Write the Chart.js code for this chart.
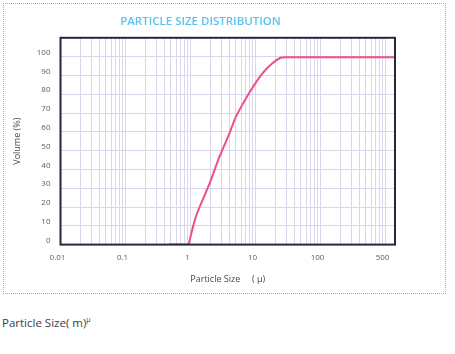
<!DOCTYPE html>
<html lang="en">
<head>
    <meta charset="UTF-8">
    <title>Particle Size Distribution</title>
    <script src="https://cdn.jsdelivr.net/npm/chart.js"></script>
    <style>
        body {
            margin: 0;
            background-color: #ffffff;
            font-family: "Open Sans", Arial, sans-serif;
        }
        .frame {
            position: absolute;
            left: 3px;
            top: 3px;
            width: 441px;
            height: 289px;
            border: 1px dotted #a9a6bd;
        }
        canvas {
            position: absolute;
            left: 0;
            top: 0;
        }
        .caption {
            position: absolute;
            left: 2px;
            top: 315px;
            font-size: 11.5px;
            color: #3c3c46;
        }
        .caption sup { font-size: 7px; }
    </style>
</head>
<body>
    <div class="frame">
        <canvas id="chart" width="441" height="289"></canvas>
    </div>
    <div class="caption">Particle Size( m)<sup>µ</sup></div>

    <script>
        // particle size (µm) and cumulative volume (%)
        const sizes  = [0.47, 0.92, 0.97, 1.16, 1.38, 1.96, 2.78, 3.95, 4.71, 5.61, 8.43, 12.7, 18.0, 24.2, 28.8, 100, 1400];
        const volume = [0,    0,    2.3,  12.9, 20.0, 32.4, 46.6, 59.0, 66.0, 71.4, 82.0, 91.0, 96.3, 99.4, 99.6, 99.6, 99.6];

        const xTickValues = [0.01, 0.1, 1, 10, 100, 1000];
        const xTickLabels = ['0.01', '0.1', '1', '10', '100', '500'];

        // outline of the plot area
        const framePlugin = {
            id: 'plotFrame',
            afterDraw(chart) {
                const a = chart.chartArea;
                const ctx = chart.ctx;
                ctx.save();
                ctx.strokeStyle = '#2b2540';
                ctx.lineWidth = 2;
                ctx.strokeRect(a.left, a.top, a.right - a.left, a.bottom - a.top);
                ctx.restore();
            }
        };

        const ctx = document.getElementById('chart').getContext('2d');
        new Chart(ctx, {
            type: 'line',
            data: {
                datasets: [{
                    data: sizes.map((s, i) => ({ x: s, y: volume[i] })),
                    borderColor: '#ec4f8c',
                    borderWidth: 2,
                    pointRadius: 0,
                    tension: 0.2,
                    fill: false
                }]
            },
            options: {
                responsive: false,
                animation: false,
                layout: { padding: { left: 2, right: 50, top: 0, bottom: 8 } },
                plugins: {
                    legend: { display: false },
                    tooltip: { enabled: false },
                    title: {
                        display: true,
                        text: 'PARTICLE SIZE DISTRIBUTION',
                        color: '#5ac2ee',
                        font: { family: 'Open Sans', size: 11.5, weight: '600' },
                        padding: { top: 11, bottom: 9 }
                    }
                },
                scales: {
                    x: {
                        type: 'logarithmic',
                        min: 0.01,
                        max: 1400,
                        afterBuildTicks(scale) {
                            const ticks = [];
                            for (let k = -2; k <= 3; k++) {
                                for (let m = 1; m <= 9; m++) {
                                    const v = m * Math.pow(10, k);
                                    if (v >= 0.01 && v <= 1400) ticks.push({ value: v });
                                }
                            }
                            scale.ticks = ticks;
                        },
                        grid: { color: '#d9d5ea', lineWidth: 1, drawTicks: false },
                        border: { display: false },
                        ticks: {
                            autoSkip: false,
                            maxRotation: 0,
                            padding: 8,
                            labelOffset: -3,
                            color: '#5c5a66',
                            font: { family: 'Open Sans', size: 8 },
                            callback(value) {
                                const i = xTickValues.findIndex(t => Math.abs(t - value) < t * 1e-6);
                                return i >= 0 ? xTickLabels[i] : '';
                            }
                        },
                        title: {
                            display: true,
                            text: 'Particle Size     ( µ)',
                            color: '#4a4856',
                            font: { family: 'Open Sans', size: 9 },
                            padding: { top: 4, bottom: 0 }
                        }
                    },
                    y: {
                        min: 0,
                        max: 110,
                        grid: { color: '#d9d5ea', lineWidth: 1, drawTicks: false },
                        border: { display: false },
                        ticks: {
                            stepSize: 10,
                            padding: 10,
                            labelOffset: -4,
                            color: '#5c5a66',
                            font: { family: 'Open Sans', size: 8 },
                            callback(value) {
                                return value > 100 ? '' : value;
                            }
                        },
                        title: {
                            display: true,
                            text: 'Volume (%)',
                            color: '#4a4856',
                            font: { family: 'Open Sans', size: 9 },
                            padding: { top: 6, bottom: 4 }
                        }
                    }
                }
            },
            plugins: [framePlugin]
        });
    </script>
</body>
</html>
